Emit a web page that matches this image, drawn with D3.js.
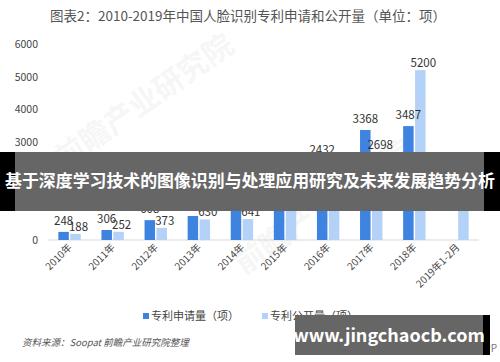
<!DOCTYPE html>
<html>
<head>
<meta charset="utf-8">
<script src="https://cdn.jsdelivr.net/npm/d3@7"></script>
<style>
body { margin: 0; background: #fff; }
svg { display: block; font-family: "Noto Sans CJK SC", "Noto Sans", sans-serif; }
</style>
</head>
<body>
<svg></svg>
<script>
var categories = ["2010年", "2011年", "2012年", "2013年", "2014年", "2015年", "2016年", "2017年", "2018年", "2019年1-2月"];
var applications = [248, 306, 608, 735, 1157, 1681, 2432, 3368, 3487, null];
var publications = [188, 252, 373, 630, 641, 1303, 1818, 2698, 5200, 1160];
var seriesNames = ["专利申请量（项）", "专利公开量（项）"];
var yTicks = [0, 1000, 2000, 3000, 4000, 5000, 6000];

var screen = {width: 500, height: 362};
var colors = ["#3f83e0", "#b4d2f8"];

var svg = d3.select("svg")
    .attr("width", screen.width)
    .attr("height", screen.height);

// title
svg.append("text")
    .attr("x", 248).attr("y", 21)
    .attr("text-anchor", "middle")
    .attr("font-size", 13.5)
    .attr("fill", "#555")
    .text("图表2：2010-2019年中国人脸识别专利申请和公开量（单位：项）");

// faint watermark
[[150, 110], [330, 215]].forEach(function(p){
    svg.append("text")
        .attr("transform", "translate(" + p[0] + "," + p[1] + ") rotate(-35)")
        .attr("text-anchor", "middle")
        .attr("font-size", 30)
        .attr("font-weight", "bold")
        .attr("fill", "#000")
        .attr("opacity", 0.03)
        .text("前瞻产业研究院");
});

var xScale = d3.scaleBand().domain(categories).range([48, 479]).paddingInner(0.48).paddingOuter(0.24);
var xInner = d3.scaleBand().domain([0, 1]).range([0, xScale.bandwidth()]).paddingInner(0.12);
var yScale = d3.scaleLinear().domain([0, 6000]).range([240, 44]);

// y tick labels
svg.append("g")
    .selectAll("text")
    .data(yTicks)
    .enter()
    .append("text")
    .attr("x", 38)
    .attr("y", function(d){ return yScale(d) + 4; })
    .attr("text-anchor", "end")
    .attr("font-size", 10.5)
    .attr("fill", "#444")
    .text(function(d){ return d; });

// baseline
svg.append("line")
    .attr("x1", 48).attr("x2", 479)
    .attr("y1", yScale(0)).attr("y2", yScale(0))
    .attr("stroke", "#d9d9d9")
    .attr("stroke-width", 1);

var cells = [];
categories.forEach(function(c, i){
    [applications[i], publications[i]].forEach(function(v, k){
        if (v != null) cells.push({cat: c, k: k, v: v});
    });
});

var barX = function(d){ return xScale(d.cat) + xInner(d.k); };

svg.append("g")
    .selectAll("rect")
    .data(cells)
    .enter()
    .append("rect")
    .attr("x", barX)
    .attr("width", xInner.bandwidth())
    .attr("y", function(d){ return yScale(d.v); })
    .attr("height", function(d){ return yScale(0) - yScale(d.v); })
    .attr("fill", function(d){ return colors[d.k]; });

svg.append("g")
    .selectAll("text")
    .data(cells)
    .enter()
    .append("text")
    .attr("x", function(d){ return barX(d) + xInner.bandwidth() / 2 + (d.k == 1 ? 3 : 0); })
    .attr("y", function(d){ return yScale(d.v) - (d.k == 0 ? 7 : 3); })
    .attr("text-anchor", "middle")
    .attr("font-size", 11.5)
    .attr("fill", "#333")
    .text(function(d){ return d.v; });

// x labels
svg.append("g")
    .selectAll("text")
    .data(categories)
    .enter()
    .append("text")
    .attr("transform", function(d){
        return "translate(" + (xScale(d) + xScale.bandwidth() / 2 + 3) + ",248) rotate(-45)";
    })
    .attr("text-anchor", "end")
    .attr("font-size", 10)
    .attr("fill", "#444")
    .text(function(d){ return d; });

// legend
var legend = svg.append("g")
    .selectAll("g")
    .data(seriesNames)
    .enter()
    .append("g")
    .attr("transform", function(d, i){ return "translate(" + (143 + i * 119) + ",313)"; });

legend.append("rect")
    .attr("width", 6).attr("height", 6)
    .attr("fill", function(d, i){ return colors[i]; });

legend.append("text")
    .attr("x", 8).attr("y", 7)
    .attr("font-size", 11)
    .attr("fill", "#444")
    .text(function(d){ return d; });

// source note
svg.append("text")
    .attr("x", 22).attr("y", 346)
    .attr("font-size", 9.5)
    .attr("font-style", "italic")
    .attr("fill", "#555")
    .text("资料来源：Soopat 前瞻产业研究院整理");

svg.append("text")
    .attr("x", 497).attr("y", 352)
    .attr("text-anchor", "end")
    .attr("font-size", 10)
    .attr("fill", "#777")
    .text("@前瞻经济学人APP");

// overlay banner
svg.append("rect").attr("x", 0).attr("y", 152).attr("width", 500).attr("height", 59).attr("fill", "#000");
svg.append("rect").attr("x", 15).attr("y", 152).attr("width", 469).attr("height", 59).attr("fill", "#fff").attr("opacity", 0.4);
svg.append("text")
    .attr("x", 250).attr("y", 187)
    .attr("text-anchor", "middle")
    .attr("font-size", 16.9)
    .attr("font-weight", "bold")
    .attr("fill", "#fff")
    .text("基于深度学习技术的图像识别与处理应用研究及未来发展趋势分析");

// site box
svg.append("rect").attr("x", 295).attr("y", 315).attr("width", 195).attr("height", 40).attr("fill", "#000");
svg.append("rect").attr("x", 295).attr("y", 315).attr("width", 188).attr("height", 40).attr("fill", "#fff").attr("opacity", 0.4);
svg.append("text")
    .attr("x", 389).attr("y", 342)
    .attr("text-anchor", "middle")
    .attr("font-size", 18)
    .attr("font-weight", "bold")
    .attr("fill", "#fff")
    .text("www.jingchaocb.com");
</script>
</body>
</html>
